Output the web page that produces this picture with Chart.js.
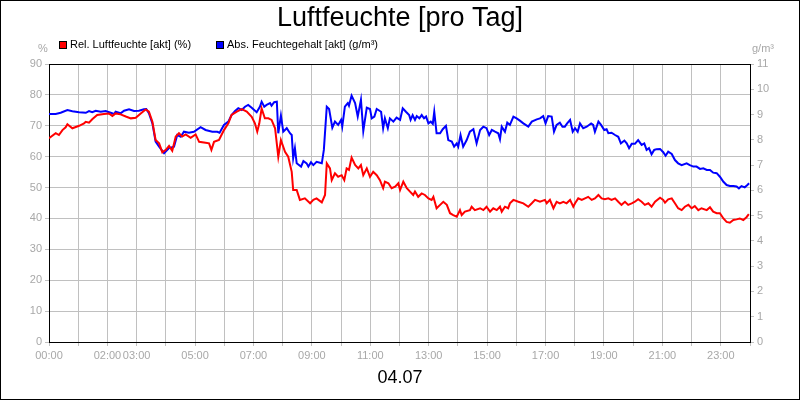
<!DOCTYPE html>
<html>
<head>
<meta charset="utf-8">
<script src="https://cdn.jsdelivr.net/npm/chart.js@4"></script>
<style>
  body { margin: 0; background: #fff; }
  #wrap { width: 800px; height: 400px; }
</style>
</head>
<body>
<div id="wrap"><canvas id="chart" width="800" height="400"></canvas></div>
<script>
// === DATEN ===
const chartTitle = 'Luftfeuchte [pro Tag]';
const dateLabel = '04.07';
const relLabel = 'Rel. Luftfeuchte [akt] (%)';
const absLabel = 'Abs. Feuchtegehalt [akt] (g/m³)';
const xLabelHours = [0, 2, 3, 5, 7, 9, 11, 13, 15, 17, 19, 21, 23];

// relative Feuchte (%), Zeit in Stunden
const relTime = [0, 0.23, 0.34, 0.46, 0.57, 0.63, 0.80, 1.03, 1.20, 1.26, 1.37, 1.48, 1.65, 1.88, 2.05, 2.17, 2.28, 2.45, 2.63, 2.80, 2.97, 3.14, 3.31, 3.42, 3.54, 3.65, 3.77, 3.88, 4.00, 4.11, 4.22, 4.34, 4.45, 4.56, 4.68, 4.85, 5.02, 5.14, 5.36, 5.48, 5.56, 5.65, 5.82, 5.99,
  6.14, 6.25, 6.43, 6.60, 6.77, 6.94, 7.05, 7.13, 7.20, 7.28, 7.39, 7.51, 7.62, 7.74, 7.85, 7.94, 8.08, 8.19, 8.31, 8.36, 8.48, 8.59, 8.76, 8.94, 9.05, 9.16, 9.34, 9.45, 9.51, 9.62, 9.68, 9.79, 9.90, 10.02, 10.11, 10.19, 10.27, 10.36, 10.48, 10.59, 10.68, 10.76, 10.88, 10.99, 11.10, 11.22, 11.33, 11.44, 11.50, 11.62, 11.73, 11.85, 11.96,
  12.02, 12.13, 12.25, 12.36, 12.47, 12.53, 12.64, 12.76, 12.87, 12.99, 13.10, 13.16, 13.27, 13.39, 13.50, 13.62, 13.73, 13.84, 13.96, 14.07, 14.13, 14.24, 14.41, 14.47, 14.58, 14.76, 14.87, 14.98, 15.10, 15.21, 15.33, 15.44, 15.50, 15.61, 15.72, 15.78, 15.90, 16.07, 16.24, 16.41, 16.53, 16.64, 16.81, 16.98, 17.04, 17.15, 17.27, 17.38, 17.49, 17.61, 17.72, 17.84, 17.95,
  18.01, 18.12, 18.24, 18.35, 18.46, 18.58, 18.69, 18.81, 18.92, 19.03, 19.15, 19.26, 19.38, 19.49, 19.60, 19.72, 19.83, 19.95, 20.06, 20.17, 20.29, 20.40, 20.52, 20.63, 20.75, 20.92, 21.03, 21.09, 21.20, 21.32, 21.43, 21.54, 21.66, 21.77, 21.89, 22.00, 22.11, 22.23, 22.34, 22.52, 22.63, 22.74, 22.86, 22.97, 23.09, 23.20, 23.31, 23.43, 23.54, 23.65, 23.77, 23.88, 23.96];
const relValues = [66, 67.6, 67, 68.6, 69.5, 70.5, 69.2, 70, 70.8, 71.3, 71, 72.1, 73.5, 73.8, 74, 73.2, 74, 73.7, 73, 72.4, 72.6, 74, 75.3, 74.6, 71.3, 65.4, 64.3, 61.4, 62.2, 63.5, 61.9, 66.5, 67.6, 66.5, 67.2, 66.1, 67.2, 64.8, 64.5, 64.3, 62.2, 64.8, 65.4, 68.6,
  70.8, 73.5, 74.6, 75.4, 74.6, 72.9, 70.8, 68.1, 70.8, 75.6, 72.4, 72.4, 71.9, 69.2, 60, 65.4, 61.6, 60, 55.1, 49.2, 49.2, 46, 46.5, 44.9, 46, 46.5, 45.2, 47.6, 57.8, 56.2, 52.4, 54.6, 53.5, 54, 52.4, 56.2, 55.7, 59.7, 57.3, 56.2, 57.3, 54, 56.2, 53.5, 55.1, 54, 52.4, 49.8, 51.9, 51.4, 49.8, 50.3, 51.4,
  49.2, 51.9, 49.8, 48.7, 47.6, 48.7, 47, 48.1, 47.6, 46.5, 46, 47, 43.3, 44.4, 45.4, 44.4, 41.7, 41.1, 40.6, 42.7, 41.1, 42.2, 42.7, 43.8, 42.7, 43.3, 42.7, 43.8, 42.2, 43.3, 42.7, 43.8, 42.2, 43.8, 43.3, 44.9, 46, 45.4, 44.9, 43.8, 44.9, 46, 45.4, 46, 44.9, 46, 43.3, 45.4, 44.9, 45.4, 44.9, 46, 43.8,
  44.9, 46.5, 46, 46.5, 47, 46, 46.5, 47.6, 46.5, 46.2, 46.5, 46, 46.5, 45.4, 44.4, 45.4, 44.4, 44.9, 45.4, 46.2, 45.4, 44.4, 44.9, 43.8, 45.4, 46.7, 46, 45.1, 46.2, 46.5, 44.9, 43.3, 42.7, 43.8, 44.4, 43.3, 44, 42.7, 43.3, 42.7, 43.6, 42.2, 41.7, 41.7, 40, 38.9, 38.6, 39.5, 39.7, 40, 39.5, 40.4, 41.4];

// absoluter Feuchtegehalt (g/m³)
const absTime = [0, 0.23, 0.40, 0.63, 0.80, 1.03, 1.26, 1.37, 1.48, 1.60, 1.77, 1.94, 2.11, 2.23, 2.28, 2.45, 2.57, 2.74, 2.91, 3.08, 3.25, 3.33, 3.42, 3.54, 3.65, 3.77, 3.94, 4.11, 4.28, 4.39, 4.51, 4.62, 4.79, 4.96, 5.19, 5.36, 5.59, 5.76, 5.84, 5.99,
  6.14, 6.25, 6.37, 6.48, 6.60, 6.71, 6.82, 6.94, 7.11, 7.22, 7.28, 7.37, 7.45, 7.57, 7.62, 7.71, 7.80, 7.85, 7.94, 8.02, 8.14, 8.25, 8.31, 8.36, 8.42, 8.48, 8.63, 8.71, 8.82, 8.88, 8.97, 9.05, 9.16, 9.34, 9.41, 9.51, 9.59, 9.70, 9.79, 9.90, 10.00, 10.04, 10.13, 10.23, 10.27, 10.36, 10.48, 10.57, 10.68, 10.76, 10.88, 10.99, 11.05, 11.14, 11.22, 11.37, 11.44, 11.50, 11.60, 11.67, 11.79, 11.90,
  12.02, 12.11, 12.22, 12.33, 12.38, 12.45, 12.53, 12.59, 12.68, 12.76, 12.84, 12.91, 12.99, 13.07, 13.14, 13.19, 13.27, 13.39, 13.48, 13.59, 13.67, 13.79, 13.87, 13.96, 14.01, 14.09, 14.18, 14.30, 14.41, 14.53, 14.64, 14.76, 14.87, 14.98, 15.07, 15.16, 15.27, 15.38, 15.44, 15.50, 15.61, 15.69, 15.78, 15.90, 16.01, 16.12, 16.24, 16.41, 16.53, 16.70, 16.81, 16.92, 17.00, 17.09, 17.21, 17.29, 17.38, 17.49, 17.58, 17.66, 17.74, 17.84, 17.93,
  18.01, 18.10, 18.18, 18.29, 18.41, 18.56, 18.63, 18.69, 18.81, 18.90, 19.01, 19.09, 19.15, 19.26, 19.38, 19.49, 19.58, 19.70, 19.78, 19.86, 19.95, 20.06, 20.17, 20.29, 20.38, 20.46, 20.54, 20.63, 20.72, 20.80, 20.92, 21.03, 21.11, 21.20, 21.32, 21.43, 21.54, 21.66, 21.83, 21.94, 22.06, 22.17, 22.29, 22.40, 22.52, 22.63, 22.74, 22.86, 22.97, 23.09, 23.20, 23.31, 23.43, 23.54, 23.62, 23.71, 23.82, 23.91, 23.97];
const absValues = [9.02, 9.02, 9.07, 9.18, 9.13, 9.09, 9.07, 9.14, 9.09, 9.15, 9.11, 9.14, 9.07, 9.02, 9.11, 9.05, 9.15, 9.21, 9.14, 9.15, 9.21, 9.22, 9.05, 8.65, 7.93, 7.73, 7.47, 7.67, 7.73, 8.19, 8.12, 8.32, 8.28, 8.32, 8.50, 8.39, 8.32, 8.32, 8.28, 8.59,
  8.72, 8.98, 9.14, 9.25, 9.18, 9.31, 9.38, 9.27, 9.09, 9.31, 9.51, 9.31, 9.38, 9.45, 9.35, 9.49, 9.51, 8.26, 8.96, 8.32, 8.46, 8.26, 8.19, 7.27, 7.67, 7.07, 6.94, 7.16, 7.07, 6.94, 7.11, 7.00, 7.13, 7.07, 7.60, 9.31, 9.22, 8.48, 8.72, 8.59, 8.79, 8.52, 9.31, 9.45, 9.35, 9.75, 9.45, 8.92, 9.58, 8.35, 9.27, 9.22, 8.85, 8.92, 9.22, 9.11, 8.46, 8.85, 8.46, 8.85, 8.72, 8.88,
  8.79, 9.25, 9.11, 8.98, 8.79, 8.98, 8.79, 8.94, 8.85, 8.98, 8.85, 8.92, 8.65, 8.72, 8.63, 9.11, 8.26, 8.26, 8.42, 8.55, 7.99, 7.93, 7.73, 7.86, 7.73, 8.19, 7.73, 7.99, 8.32, 8.42, 7.86, 8.39, 8.52, 8.46, 8.19, 8.39, 8.32, 8.26, 8.02, 8.52, 8.32, 8.68, 8.59, 8.92, 8.85, 8.76, 8.65, 8.52, 8.72, 8.81, 8.85, 8.94, 8.65, 8.94, 8.92, 8.32, 8.59, 8.68, 8.52, 8.52, 8.65, 8.79, 8.32,
  8.46, 8.32, 8.65, 8.46, 8.52, 8.65, 8.59, 8.32, 8.72, 8.59, 8.39, 8.42, 8.26, 8.28, 8.19, 8.12, 7.86, 7.97, 7.86, 7.67, 7.84, 7.84, 7.99, 7.80, 7.86, 7.60, 7.67, 7.43, 7.60, 7.63, 7.64, 7.51, 7.37, 7.53, 7.44, 7.20, 7.07, 7.00, 7.07, 7.00, 6.94, 6.94, 6.85, 6.87, 6.81, 6.81, 6.70, 6.68, 6.54, 6.34, 6.21, 6.17, 6.17, 6.15, 6.08, 6.17, 6.12, 6.21, 6.28];

// === HILFSFUNKTIONEN ===
const FONT = '"Liberation Sans", Arial, sans-serif';
const GRID = '#c0c0c0';
const TICK_TEXT = '#a8a8a8';
const pad2 = (n) => String(n).padStart(2, '0');
const toPoints = (xs, ys) => xs.map((x, i) => ({ x, y: ys[i] }));

// Titel, Legende, Einheiten, Rahmen
const decoPlugin = {
  id: 'deco',
  afterDraw(chart) {
    const ctx = chart.ctx;
    const area = chart.chartArea;
    ctx.save();
    // obere Kante des Plotbereichs
    ctx.strokeStyle = '#000';
    ctx.lineWidth = 1;
    ctx.beginPath();
    ctx.moveTo(area.left, Math.round(area.top) + 0.5);
    ctx.lineTo(area.right, Math.round(area.top) + 0.5);
    ctx.stroke();
    // Rahmen ums Bild
    ctx.strokeRect(0.5, 0.5, chart.width - 1, chart.height - 1);

    ctx.fillStyle = '#000';
    ctx.textAlign = 'center';
    ctx.textBaseline = 'middle';
    ctx.font = '27px ' + FONT;
    ctx.fillText(chartTitle, chart.width / 2, 19);
    ctx.font = '18px ' + FONT;
    ctx.fillText(dateLabel, chart.width / 2, 378);

    // Legende
    ctx.font = '11px ' + FONT;
    ctx.textAlign = 'left';
    const items = [[relLabel, '#ff0000', 59], [absLabel, '#0000ff', 216]];
    items.forEach(([text, color, x]) => {
      ctx.fillStyle = color;
      ctx.fillRect(x, 41, 8, 8);
      ctx.strokeStyle = '#000';
      ctx.strokeRect(x + 0.5, 41.5, 7, 7);
      ctx.fillStyle = '#000';
      ctx.fillText(text, x + 11, 45);
    });

    // Einheiten
    ctx.fillStyle = TICK_TEXT;
    ctx.textAlign = 'center';
    ctx.fillText('%', 43, 49);
    ctx.fillText('g/m³', 763, 49);
    ctx.restore();
  }
};

// === DIAGRAMM ===
new Chart(document.getElementById('chart'), {
  type: 'line',
  data: {
    datasets: [
      { label: relLabel, data: toPoints(relTime, relValues), borderColor: '#ff0000', borderWidth: 2, pointRadius: 0, tension: 0, yAxisID: 'yL' },
      { label: absLabel, data: toPoints(absTime, absValues), borderColor: '#0000ff', borderWidth: 2, pointRadius: 0, tension: 0, yAxisID: 'yR' }
    ]
  },
  options: {
    responsive: false,
    animation: false,
    layout: { padding: { top: 64, left: 0, right: 0, bottom: 0 } },
    plugins: { legend: { display: false }, title: { display: false }, tooltip: { enabled: false } },
    scales: {
      x: {
        type: 'linear', min: 0, max: 24,
        afterFit: (s) => { s.height = 58; },
        grid: { color: GRID, tickLength: 4, tickColor: GRID },
        border: { display: true, color: '#000' },
        ticks: {
          stepSize: 1, autoSkip: false, maxRotation: 0, padding: 3,
          color: TICK_TEXT, font: { family: FONT, size: 11 },
          callback: (v) => xLabelHours.includes(v) ? pad2(v) + ':00' : ''
        }
      },
      yL: {
        position: 'left', min: 0, max: 90,
        afterFit: (s) => { s.width = 49; },
        grid: { color: GRID, tickLength: 4, tickColor: GRID },
        border: { display: true, color: '#000' },
        ticks: { stepSize: 10, padding: 3, color: TICK_TEXT, font: { family: FONT, size: 11 } }
      },
      yR: {
        position: 'right', min: 0, max: 11,
        afterFit: (s) => { s.width = 50; },
        grid: { drawOnChartArea: false, tickLength: 4, tickColor: GRID },
        border: { display: true, color: '#000' },
        ticks: { stepSize: 1, padding: 3, color: TICK_TEXT, font: { family: FONT, size: 11 } }
      }
    }
  },
  plugins: [decoPlugin]
});
</script>
</body>
</html>
